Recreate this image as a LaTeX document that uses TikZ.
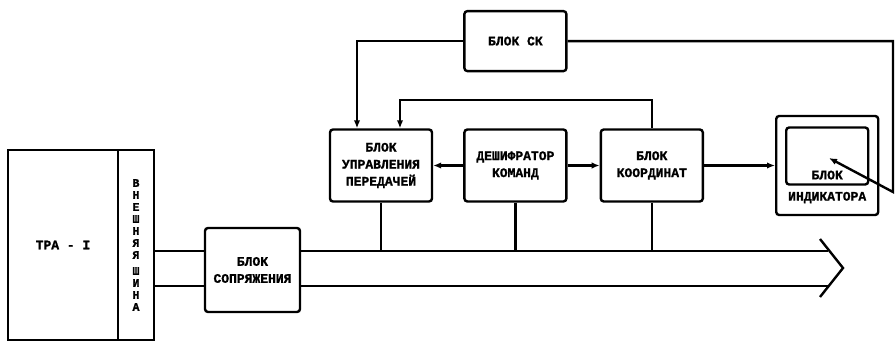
\documentclass[tikz,border=0pt]{standalone}
\usepackage{fontspec}
\setmainfont{Liberation Mono}[BoldFeatures={FakeBold=1.2}]
\usetikzlibrary{positioning,arrows.meta,calc}

\begin{document}
\begin{tikzpicture}[x=1pt, y=-1pt,
    blok/.style={draw, line width=2.4pt, rounded corners=3pt, minimum width=102pt,
                 minimum height=72pt, align=center,
                 font=\fontsize{13}{17}\selectfont\bfseries},
    txt/.style={inner sep=1pt, font=\fontsize{13}{14}\selectfont\bfseries},
    link/.style={line width=2.4pt},
    arrow/.style={link, -{Latex[length=8pt, width=6.5pt]}}
]
    \useasboundingbox (0,0) rectangle (895,342);

    % TRA-I with the outer bus strip (left)
    \node[blok, rounded corners=0pt, minimum width=110pt, minimum height=190pt] (tra) at (63,245) {ТРА - I};
    \node[blok, rounded corners=0pt, minimum width=36pt, minimum height=190pt,
          font=\fontsize{11.5}{12}\selectfont\bfseries] (shina) at (136,245)
          {В\\Н\\Е\\Ш\\Н\\Я\\Я\\[4pt]Ш\\И\\Н\\А};
    \node[blok, minimum width=95pt, minimum height=84pt] (sopr) at (252.5,270) {БЛОК\\СОПРЯЖЕНИЯ};

    % Upper row of blocks
    \node[blok] (upr) at (381,165.5) {БЛОК\\УПРАВЛЕНИЯ\\ПЕРЕДАЧЕЙ};
    \node[blok, right=30pt of upr] (desh) {ДЕШИФРАТОР\\КОМАНД};
    \node[blok, right=32pt of desh] (koord) {БЛОК\\КООРДИНАТ};
    \node[blok, minimum height=60pt, above=56pt of desh] (sk) {БЛОК СК};

    % Indicator: outer frame with the screen inside
    \node[blok, minimum height=99pt, right=71pt of koord] (indic) {};
    \node[draw, link, rounded corners=3pt, minimum width=82pt, minimum height=57pt]
        (ekran) at ([yshift=9.5pt]indic.center) {};
    \node[txt, above=5pt of ekran.south] (ekrantxt) {БЛОК};
    \node[txt, below=5pt of ekran.south] (indictxt) {ИНДИКАТОРА};

    % Bus coordinates
    \coordinate (busA) at (828,251);
    \coordinate (busB) at (828,286);
    \coordinate (tip) at (843,268);
    \coordinate (bend) at (893,192);
    \coordinate (pointer) at (829,158);

    % Bus: stubs into the interface, main bus with open head
    \draw[link] (shina.east |- busA) -- (sopr.west |- busA);
    \draw[link] (shina.east |- busB) -- (sopr.west |- busB);
    \draw[link] (sopr.east |- busA) -- (busA);
    \draw[link] (sopr.east |- busB) -- (busB);
    \draw[link] ([shift={(-23,-29)}]tip) -- (tip) -- ([shift={(-23,29)}]tip);
    \foreach \b in {upr,desh,koord}
        \draw[link] (\b.south) -- (\b.south |- busA);

    % Control arrows
    \draw[arrow] (sk.west) -| ([xshift=-24pt]upr.north);
    \draw[arrow] (koord.north) -- ++(0,-28) -| ([xshift=19pt]upr.north);
    \draw[arrow] (desh.west) -- (desh.west -| upr.east);
    \draw[arrow] (desh.east) -- (koord.west);
    \draw[arrow] (koord.east) -- (koord.east -| indic.west);
    \draw[arrow] (sk.east) -| (bend) -- (pointer);
\end{tikzpicture}
\end{document}
